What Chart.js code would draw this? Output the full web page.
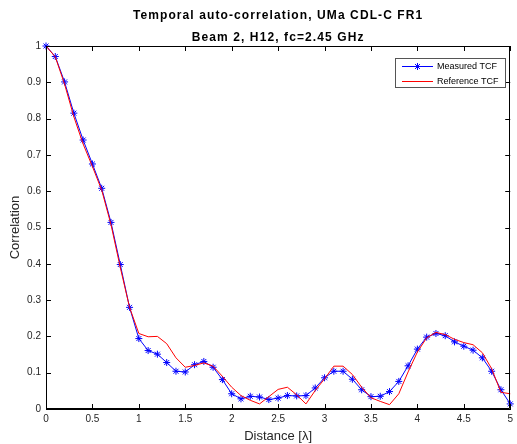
<!DOCTYPE html>
<html><head><meta charset="utf-8">
<script src="https://cdn.jsdelivr.net/npm/chart.js@4/dist/chart.umd.min.js"></script>
<style>html,body{margin:0;padding:0;background:#fff}</style>
</head><body>
<canvas id="c" width="517" height="444" style="width:517px;height:444px;display:block"></canvas>
<script>
const titleLines = ["Temporal auto-correlation, UMa CDL-C FR1", "Beam 2, H12, fc=2.45 GHz"];
const xLabel = "Distance [λ]";
const yLabel = "Correlation";
const legendLabels = ["Measured TCF", "Reference TCF"];
const distance = [0,0.1,0.2,0.3,0.4,0.5,0.6,0.7,0.8,0.9,1.0,1.1,1.2,1.3,1.4,1.5,1.6,1.7,1.8,1.9,2.0,2.1,2.2,2.3,2.4,2.5,2.6,2.7,2.8,2.9,3.0,3.1,3.2,3.3,3.4,3.5,3.6,3.7,3.8,3.9,4.0,4.1,4.2,4.3,4.4,4.5,4.6,4.7,4.8,4.9,5.0];
const measuredTCF = [1.0,0.971,0.901,0.815,0.741,0.675,0.608,0.514,0.398,0.28,0.194,0.161,0.151,0.128,0.104,0.102,0.122,0.131,0.115,0.081,0.042,0.028,0.035,0.033,0.026,0.03,0.037,0.036,0.037,0.058,0.086,0.104,0.104,0.082,0.053,0.034,0.035,0.048,0.076,0.119,0.165,0.198,0.208,0.202,0.185,0.173,0.162,0.141,0.104,0.053,0.014];
const referenceTCF = [1.0,0.97,0.895,0.805,0.73,0.668,0.603,0.508,0.39,0.28,0.208,0.199,0.2,0.18,0.141,0.115,0.12,0.127,0.118,0.09,0.06,0.037,0.024,0.014,0.034,0.054,0.06,0.039,0.014,0.051,0.083,0.118,0.118,0.095,0.06,0.031,0.021,0.012,0.042,0.102,0.157,0.196,0.211,0.205,0.192,0.183,0.177,0.155,0.111,0.046,0.042];
const xTicks = [0,0.5,1,1.5,2,2.5,3,3.5,4,4.5,5];
const yTicks = [0,0.1,0.2,0.3,0.4,0.5,0.6,0.7,0.8,0.9,1];

const FONT = "'Liberation Sans', Arial, sans-serif";
Chart.defaults.font.family = FONT;

function drawStar(ctx, x, y, r) {
  ctx.beginPath();
  ctx.moveTo(x - r, y); ctx.lineTo(x + r, y);
  ctx.moveTo(x, y - r); ctx.lineTo(x, y + r);
  const d = r * Math.SQRT1_2;
  ctx.moveTo(x - d, y - d); ctx.lineTo(x + d, y + d);
  ctx.moveTo(x - d, y + d); ctx.lineTo(x + d, y - d);
  ctx.stroke();
}

const framePlugin = {
  id: 'frame',
  afterDatasetsDraw(chart) {
    const ctx = chart.ctx, a = chart.chartArea;
    const xs = chart.scales.x, ys = chart.scales.y;
    ctx.save();
    ctx.strokeStyle = '#000';
    ctx.lineWidth = 1;
    ctx.beginPath();
    ctx.rect(Math.round(a.left) + 0.5, Math.round(a.top) + 0.5, Math.round(a.right - a.left) - 1, Math.round(a.bottom - a.top) - 1);
    ctx.stroke();
    const L = 5;
    ctx.beginPath();
    xTicks.forEach(v => {
      const px = Math.round(xs.getPixelForValue(v)) + 0.5;
      ctx.moveTo(px, a.bottom); ctx.lineTo(px, a.bottom - L);
      ctx.moveTo(px, a.top); ctx.lineTo(px, a.top + L);
    });
    yTicks.forEach(v => {
      const py = Math.round(ys.getPixelForValue(v)) + 0.5;
      ctx.moveTo(a.left, py); ctx.lineTo(a.left + L, py);
      ctx.moveTo(a.right, py); ctx.lineTo(a.right - L, py);
    });
    ctx.stroke();
    ctx.restore();
  },
  afterDraw(chart) {
    const ctx = chart.ctx, a = chart.chartArea;
    ctx.save();
    // titles
    ctx.fillStyle = '#000';
    ctx.font = 'bold 12px ' + FONT;
    ctx.textAlign = 'center';
    ctx.textBaseline = 'middle';
    try { ctx.letterSpacing = '1.1px'; } catch (e) {}
    const cx = (a.left + a.right) / 2;
    ctx.fillText(titleLines[0], cx, 16);
    ctx.fillText(titleLines[1], cx, 37.5);
    try { ctx.letterSpacing = '0px'; } catch (e) {}
    // legend
    const bx = 395.5, by = 58.5, bw = 110, bh = 29;
    ctx.fillStyle = '#fff';
    ctx.fillRect(bx, by, bw, bh);
    ctx.strokeStyle = '#555';
    ctx.lineWidth = 1;
    ctx.strokeRect(bx, by, bw, bh);
    const y1 = 66, y2 = 81;
    ctx.strokeStyle = '#0000ff';
    ctx.beginPath(); ctx.moveTo(402, y1 + 0.5); ctx.lineTo(433, y1 + 0.5); ctx.stroke();
    drawStar(ctx, 417.5, y1 + 0.5, 3.5);
    ctx.strokeStyle = '#ff0000';
    ctx.beginPath(); ctx.moveTo(402, y2 + 0.5); ctx.lineTo(433, y2 + 0.5); ctx.stroke();
    ctx.fillStyle = '#000';
    ctx.font = '9px ' + FONT;
    ctx.textAlign = 'left';
    ctx.fillText(legendLabels[0], 437, y1 + 0.5);
    ctx.fillText(legendLabels[1], 437, y2 + 0.5);
    ctx.restore();
  }
};

new Chart(document.getElementById('c'), {
  type: 'line',
  data: {
    datasets: [
      {
        label: legendLabels[0],
        data: distance.map((x, i) => ({x, y: measuredTCF[i]})),
        borderColor: '#0000ff',
        backgroundColor: '#0000ff',
        borderWidth: 1,
        pointStyle: 'star',
        pointRadius: 3.5,
        pointBorderWidth: 1,
        pointBorderColor: '#0000ff',
        tension: 0,
        clip: false,
        order: 2
      },
      {
        label: legendLabels[1],
        data: distance.map((x, i) => ({x, y: referenceTCF[i]})),
        borderColor: '#ff0000',
        backgroundColor: '#ff0000',
        borderWidth: 1,
        pointRadius: 0,
        tension: 0,
        clip: false,
        order: 1
      }
    ]
  },
  options: {
    responsive: false,
    devicePixelRatio: 1,
    animation: false,
    events: [],
    layout: { padding: { top: 46, right: 1, left: 0, bottom: 0 } },
    plugins: { legend: { display: false }, title: { display: false }, tooltip: { enabled: false } },
    scales: {
      x: {
        type: 'linear', min: 0, max: 5,
        afterBuildTicks: s => { s.ticks = xTicks.map(v => ({value: v})); },
        afterFit: s => { s.height = 35; },
        ticks: { font: { size: 10 }, color: '#262626', padding: 4, maxRotation: 0, autoSkip: false,
                 callback: v => String(v) },
        grid: { display: false, drawTicks: false },
        border: { display: true, color: '#000', width: 1 },
        title: { display: true, text: xLabel, font: { size: 13 }, color: '#262626', padding: { top: 0, bottom: 0 } }
      },
      y: {
        type: 'linear', min: 0, max: 1,
        afterBuildTicks: s => { s.ticks = yTicks.map(v => ({value: v})); },
        afterFit: s => { s.width = 46; },
        ticks: { font: { size: 10 }, color: '#262626', padding: 5, autoSkip: false,
                 callback: v => String(Math.round(v * 10) / 10) },
        grid: { display: false, drawTicks: false },
        border: { display: true, color: '#000', width: 1 },
        title: { display: true, text: yLabel, font: { size: 13 }, color: '#262626', padding: { top: 8, bottom: 0 } }
      }
    }
  },
  plugins: [framePlugin]
});
</script>
</body></html>
